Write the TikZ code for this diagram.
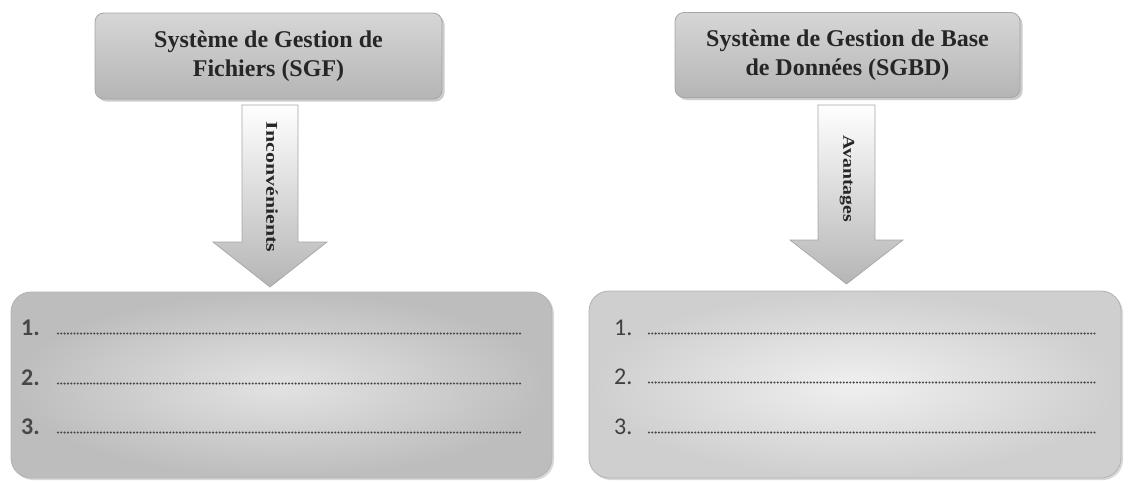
\documentclass[tikz,border=0pt]{standalone}
\usepackage{fontspec}
\setmainfont{Liberation Serif}
\newfontfamily\numfont{Carlito}
\usetikzlibrary{shadows}
\begin{document}
\begin{tikzpicture}[x=1pt,y=-1pt,
  headbox/.style={rounded corners=9pt, draw=gray!70, line width=0.8pt,
    shading=axis, top color=gray!32, bottom color=gray!58,
    drop shadow={opacity=0.4, shadow xshift=2.5pt, shadow yshift=-2.5pt},
    align=center, text=black!85, inner sep=0pt,
    font=\fontsize{24}{29}\selectfont\bfseries},
  listbox/.style={rounded corners=20pt, draw=gray!60, line width=0.8pt,
    drop shadow={opacity=0.3, shadow xshift=2pt, shadow yshift=-2pt}},
  bigarrow/.style={draw=gray!70, line width=0.7pt, shading=axis,
    top color=white, bottom color=gray!58},
  arrowlabel/.style={rotate=-90, text=black!85, inner sep=0pt,
    font=\fontsize{16.5}{16.5}\selectfont\bfseries},
  numlabel/.style={anchor=base west, inner sep=0pt,
    font=\numfont\fontsize{24}{24}\selectfont},
  dotline/.style={line width=2.3pt, line cap=round, black!72,
    dash pattern=on 0pt off 3.3pt}
]
\useasboundingbox (0,0) rectangle (1129,482);

% header boxes
\node[headbox, minimum width=347pt, minimum height=86pt] (sgf) at (268.5,56)
  {Système de Gestion de\\Fichiers (SGF)};
\node[headbox, minimum width=345pt, minimum height=85pt] (sgbd) at (847.5,55)
  {Système de Gestion de Base\\de Données (SGBD)};

% list boxes
\node[listbox, inner color=gray!22, outer color=gray!52,
  minimum width=541pt, minimum height=186pt] (lbox) at (281.5,385) {};
\node[listbox, inner color=gray!12, outer color=gray!38,
  minimum width=532pt, minimum height=187pt] (rbox) at (855,384.5) {};

% arrows
\coordinate (la) at (270,105);
\draw[bigarrow] ([xshift=-28pt]la) -- ([xshift=28pt]la) -- ++(0,137) -- ++(29,0)
  -- (270,287) -- (213,242) -- (242,242) -- cycle;
\node[arrowlabel] (inc) at (272,187) {\scalebox{1.33}[1]{Inconvénients}};

\coordinate (ra) at (846.5,105);
\draw[bigarrow] ([xshift=-28.5pt]ra) -- ([xshift=28.5pt]ra) -- ++(0,135) -- ++(28,0)
  -- (846.5,284) -- (790,240) -- (818,240) -- cycle;
\node[arrowlabel] (av) at (847,179) {\scalebox{1.2}[1]{Avantages}};

% left list
\foreach \n/\y in {1/335,2/385,3/434}{
  \node[numlabel, text=black!72] (l\n) at (21,\y) {\bfseries\n.};
  \coordinate (ls\n) at (58,\y-1.5);
  \coordinate (le\n) at (521,\y-1.5);
  \draw[dotline] (ls\n) -- (le\n);
}
% right list
\foreach \n/\y in {1/335,2/384,3/434}{
  \node[numlabel, text=black!75] (r\n) at (614,\y) {\n.};
  \coordinate (rs\n) at (649,\y-1.5);
  \coordinate (re\n) at (1095,\y-1.5);
  \draw[dotline] (rs\n) -- (re\n);
}
\end{tikzpicture}
\end{document}
